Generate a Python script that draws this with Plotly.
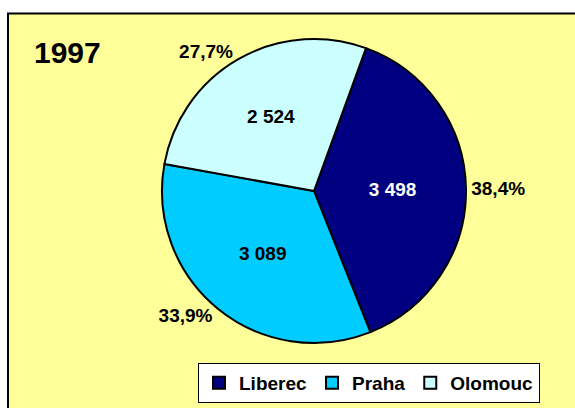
import plotly.graph_objects as go

# Data
regions = ["Liberec", "Praha", "Olomouc"]
counts = [3498, 3089, 2524]
slice_colors = ["#000080", "#00CCFF", "#CCFFFF"]
inside_text_colors = ["white", "black", "black"]
year_label = "1997"

W, H = 575, 408
FONT = "Liberation Sans, Arial, sans-serif"

# pie placement in pixels (centre and radius)
cx, cy, r = 314, 191, 152
dom_x = [(cx - r) / W, (cx + r) / W]
dom_y = [1 - (cy + r) / H, 1 - (cy - r) / H]

fig = go.Figure()

# main pie: absolute counts inside the slices
fig.add_trace(go.Pie(
    labels=regions,
    values=counts,
    sort=False,
    direction="clockwise",
    rotation=20,
    domain=dict(x=dom_x, y=dom_y),
    marker=dict(colors=slice_colors, line=dict(color="black", width=2)),
    texttemplate="%{value:,}",
    textposition="inside",
    insidetextorientation="horizontal",
    insidetextfont=dict(family=FONT, size=19, color=inside_text_colors, weight="bold"),
    hoverinfo="label+value+percent",
    showlegend=True,
))

# overlay pie: shares written outside the slices
fig.add_trace(go.Pie(
    labels=regions,
    values=counts,
    sort=False,
    direction="clockwise",
    rotation=20,
    domain=dict(x=dom_x, y=dom_y),
    marker=dict(colors=["rgba(0,0,0,0)"] * 3, line=dict(width=0)),
    texttemplate="%{percent:.1%}",
    textposition="outside",
    outsidetextfont=dict(family=FONT, size=19, color="black", weight="bold"),
    hoverinfo="skip",
    showlegend=False,
))

# chart area frame
fig.add_shape(
    type="rect", xref="paper", yref="paper",
    x0=8 / W, x1=1.05, y0=-0.05, y1=1 - 13.5 / H,
    fillcolor="#FFFF99", line=dict(color="black", width=2),
    layer="below",
)

fig.add_annotation(
    text=year_label, xref="paper", yref="paper",
    x=32 / W, y=1 - 53 / H, xanchor="left", yanchor="middle",
    showarrow=False,
    font=dict(family=FONT, size=30, color="black", weight="bold"),
)

fig.update_layout(
    width=W, height=H,
    margin=dict(l=0, r=0, t=0, b=0),
    paper_bgcolor="white",
    separators=", ",
    legend=dict(
        orientation="h",
        x=369 / W, xanchor="center",
        y=1 - 363 / H, yanchor="top",
        bgcolor="white", bordercolor="black", borderwidth=1,
        font=dict(family=FONT, size=19, color="black", weight="bold"),
        itemwidth=30,
    ),
)

fig.write_html("out.html")
